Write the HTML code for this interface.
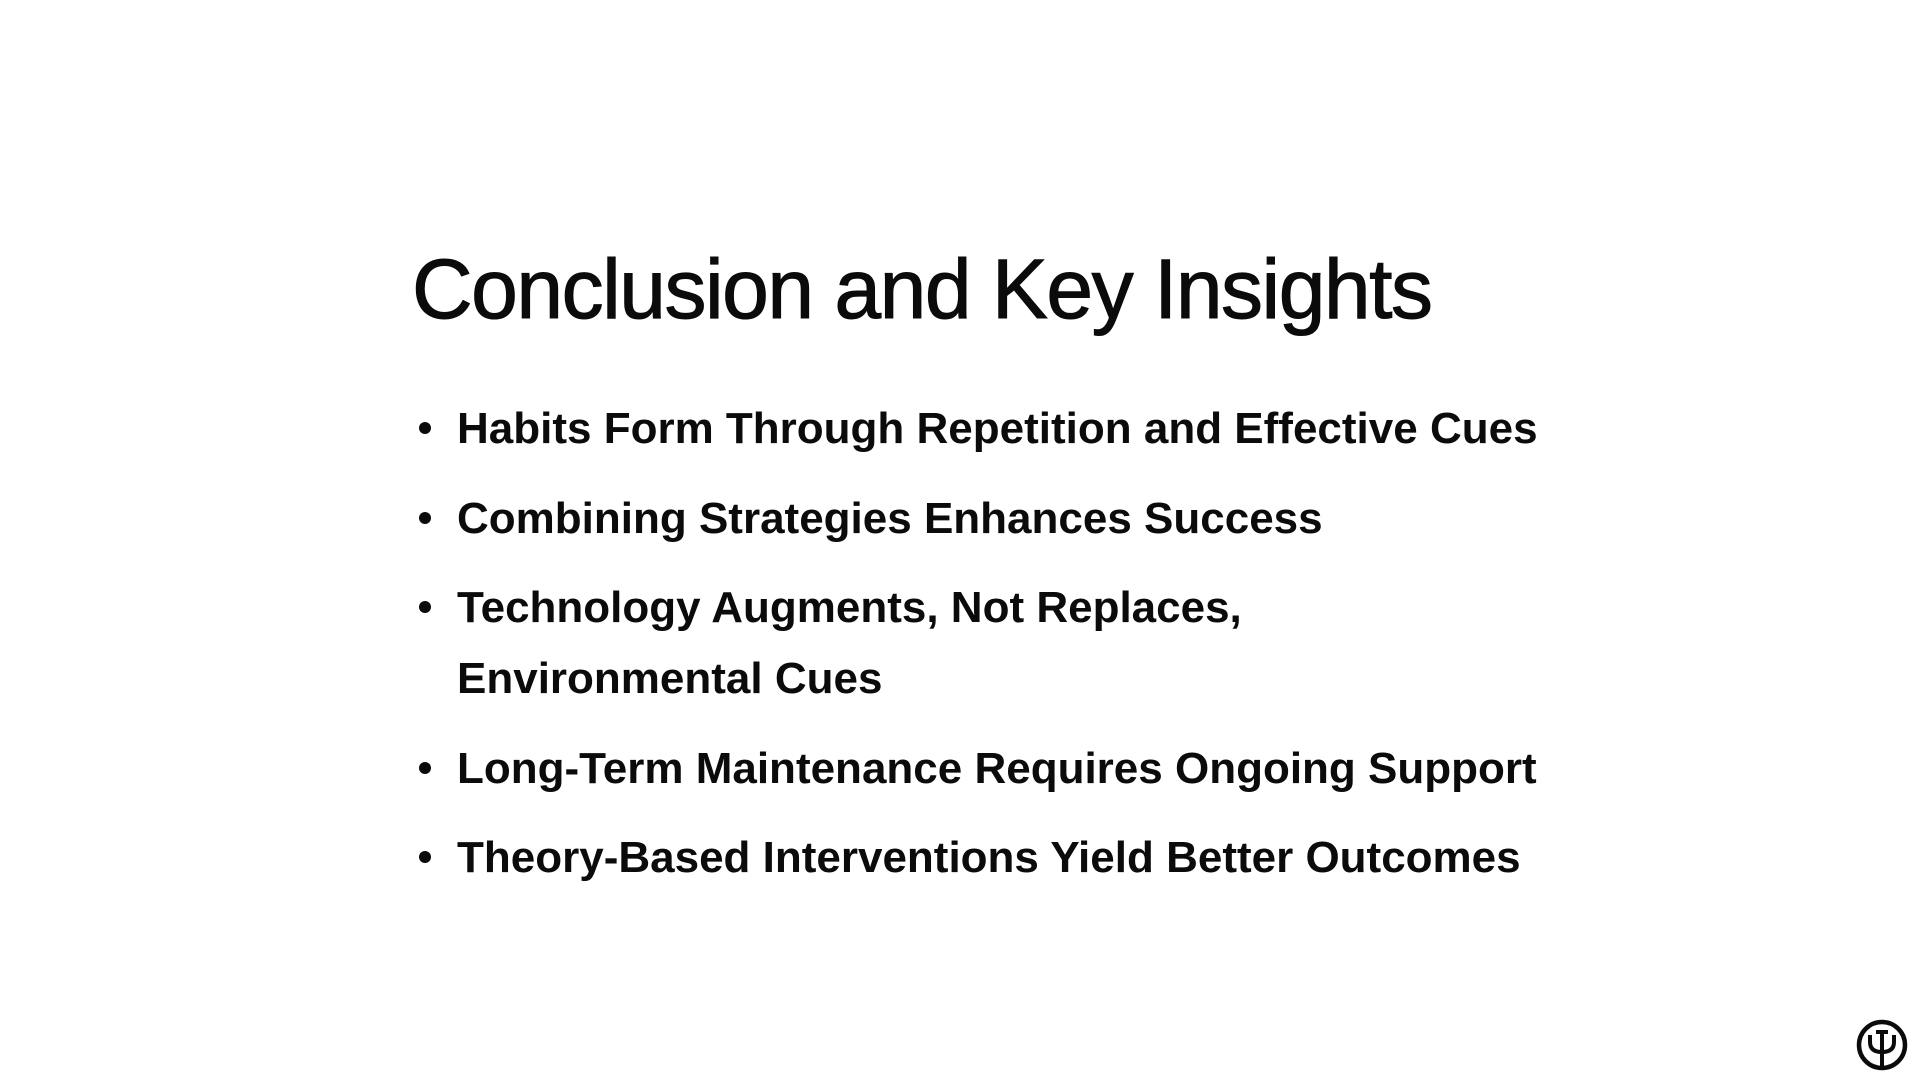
<!DOCTYPE html>
<html><head><meta charset="utf-8"><style>
html,body{margin:0;padding:0;background:#fff;}
body{width:1920px;height:1080px;position:relative;overflow:hidden;font-family:"Liberation Sans",Arial,sans-serif;color:#0b0b0b;}
h1{position:absolute;left:412px;top:247px;margin:0;font-size:84px;line-height:84px;font-weight:400;letter-spacing:-1.5px;-webkit-text-stroke:1px #0b0b0b;white-space:nowrap;}
ul{position:absolute;left:457px;top:393px;margin:0;padding:0;list-style:none;width:1300px;}
li{position:relative;font-size:44px;line-height:71px;font-weight:700;margin-bottom:18.5px;letter-spacing:0px;white-space:nowrap;}
li::before{content:"";position:absolute;left:-38px;top:29px;width:12px;height:12px;border-radius:50%;background:#0b0b0b;}
</style></head><body>
<h1>Conclusion and Key Insights</h1>
<ul>
<li>Habits Form Through Repetition and Effective Cues</li>
<li>Combining Strategies Enhances Success</li>
<li>Technology Augments, Not Replaces,<br>Environmental Cues</li>
<li>Long-Term Maintenance Requires Ongoing Support</li>
<li>Theory-Based Interventions Yield Better Outcomes</li>
</ul>
<svg style="position:absolute;left:1855px;top:1018px" width="54" height="54" viewBox="0 0 54 54">
<circle cx="27" cy="27" r="23" fill="none" stroke="#0b0b0b" stroke-width="4.5"/>
<path d="M15 17 V24 Q15 34 27 34 Q39 34 39 24 V17" fill="none" stroke="#0b0b0b" stroke-width="4"/>
<path d="M27 14 V49 M21 14 H33" fill="none" stroke="#0b0b0b" stroke-width="4"/>
</svg>
</body></html>
